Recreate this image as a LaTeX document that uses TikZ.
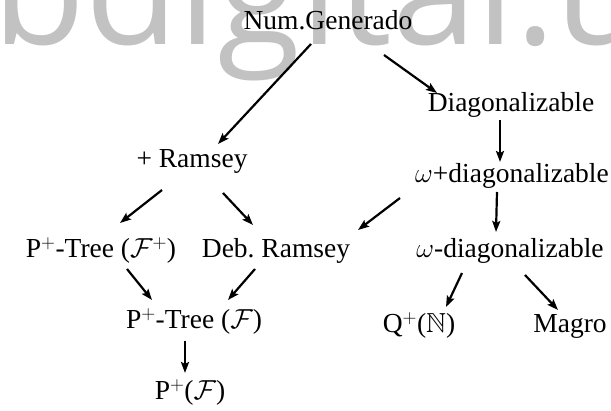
\RequirePackage{fix-cm}
\documentclass[tikz,border=0pt]{standalone}
\usepackage{amssymb}
\usepackage{fontspec}
\setmainfont{Liberation Serif}
\newfontfamily\wmfont{Open Sans}
\usetikzlibrary{calc,arrows.meta}
\begin{document}
\begin{tikzpicture}[x=1pt,y=-1pt,
  lbl/.style={anchor=base,inner sep=0pt,font=\fontsize{27.5}{33}\selectfont},
  arr/.style={line width=2.2pt,-{Stealth[length=11pt,width=8pt,inset=2pt]}}]
\useasboundingbox (0,0) rectangle (611,411);
\begin{scope}
\clip (0,0) rectangle (611,411);
\node[anchor=base west,inner sep=0pt,text=black!24,font=\wmfont\fontsize{152}{152}\selectfont] (wm) at (-8,45) {bdigital.u};
\end{scope}
\node[lbl] (ng) at (328,30) {Num.Generado};
\node[lbl] (dg) at (511,112) {Diagonalizable};
\node[lbl] (rm) at (192,168) {+ Ramsey};
\node[lbl] (wp) at (512,183) {$\omega$+diagonalizable};
\node[lbl] (pt1) at (101,258) {P$^+$-Tree ($\mathcal{F}^+$)};
\node[lbl] (db) at (276,258) {Deb.\ Ramsey};
\node[lbl] (wd) at (510,258) {$\omega$-diagonalizable};
\node[lbl] (pt) at (194,329) {P$^+$-Tree ($\mathcal{F}$)};
\node[lbl] (pf) at (190,400) {P$^+$($\mathcal{F}$)};
\node[lbl] (q) at (419,333) {Q$^+$($\mathbb{N}$)};
\node[lbl] (mg) at (570,333) {Magro};
\draw[arr] ($(ng.base)+(-17,14)$) -- ($(rm.base)+(26,-24)$);
\draw[arr] ($(ng.base)+(56,25)$) -- ($(dg.base)+(-74,-19)$);
\draw[arr] ($(dg.base)+(-11,8)$) -- ($(wp.base)+(-12,-21)$);
\draw[arr] ($(wp.base)+(-15,9)$) -- ($(wd.base)+(-14,-26)$);
\draw[arr] ($(wp.base)+(-112,15)$) -- ($(db.base)+(82,-28)$);
\draw[arr] ($(rm.base)+(-30,22)$) -- ($(pt1.base)+(19,-35)$);
\draw[arr] ($(rm.base)+(31,25)$) -- ($(db.base)+(-23,-33)$);
\draw[arr] ($(pt1.base)+(26,11)$) -- ($(pt.base)+(-42,-29)$);
\draw[arr] ($(db.base)+(-21,11)$) -- ($(pt.base)+(34,-29)$);
\draw[arr] ($(pt.base)+(-9,12)$) -- ($(pf.base)+(-5,-27)$);
\draw[arr] ($(wd.base)+(-48,15)$) -- ($(q.base)+(27,-26)$);
\draw[arr] ($(wd.base)+(15,17)$) -- ($(mg.base)+(-12,-23)$);
\end{tikzpicture}
\end{document}
